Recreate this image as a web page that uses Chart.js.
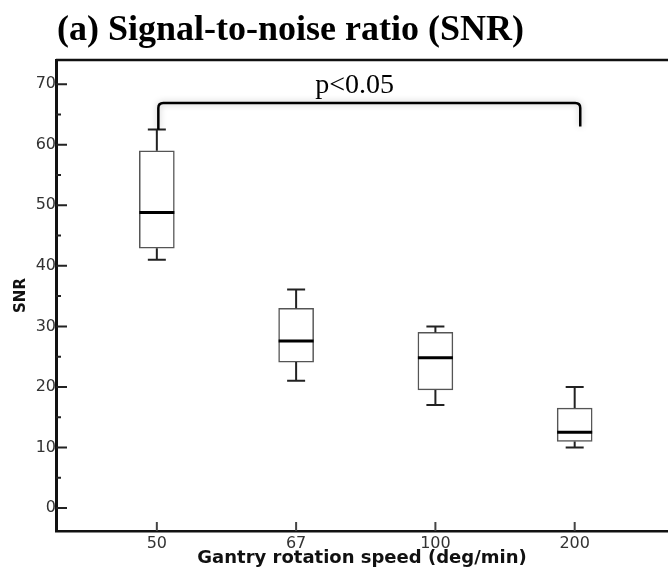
<!DOCTYPE html>
<html>
<head>
<meta charset="utf-8">
<script src="https://cdn.jsdelivr.net/npm/chart.js@4.4.0/dist/chart.umd.min.js"></script>
<style>
  html, body { margin: 0; padding: 0; background: #fff; }
  #wrap { width: 668px; height: 570px; }
</style>
</head>
<body>
<div id="wrap"><canvas id="myChart" width="668" height="570"></canvas></div>
<script>
// values
var speeds = ['50', '67', '100', '200'];
var whiskerLow = [41.0, 21.0, 17.0, 10.0];
var q1 = [42.9, 24.1, 19.5, 11.0];
var median = [48.8, 27.6, 24.8, 12.5];
var q3 = [59.0, 33.0, 29.0, 16.5];
var whiskerHigh = [62.5, 36.1, 30.0, 20.0];
var yTicks = [0, 10, 20, 30, 40, 50, 60, 70];
var yMinorTicks = [5, 15, 25, 35, 45, 55, 65];

// significance bracket between 50 and 200
var bracketX = [0, 3.04];
var bracketTop = 66.9;
var bracketEnds = [62.5, 63.0];
var pText = 'p<0.05';
var pTextPos = [1.42, 68.5];

var boxData = speeds.map(function (s, i) {
    return { x: i, y: [q1[i], q3[i]] };
});

var boxPlugin = {
    id: 'boxExtras',
    afterDatasetsDraw: function (chart) {
        var ctx = chart.ctx;
        var xs = chart.scales.x, ys = chart.scales.y;
        var area = chart.chartArea;
        ctx.save();

        // whiskers + caps
        ctx.strokeStyle = '#222';
        ctx.lineWidth = 2;
        for (var i = 0; i < speeds.length; i++) {
            var cx = xs.getPixelForValue(i);
            ctx.beginPath();
            ctx.moveTo(cx, ys.getPixelForValue(q3[i]));
            ctx.lineTo(cx, ys.getPixelForValue(whiskerHigh[i]));
            ctx.moveTo(cx, ys.getPixelForValue(q1[i]));
            ctx.lineTo(cx, ys.getPixelForValue(whiskerLow[i]));
            ctx.moveTo(cx - 9, ys.getPixelForValue(whiskerHigh[i]));
            ctx.lineTo(cx + 9, ys.getPixelForValue(whiskerHigh[i]));
            ctx.moveTo(cx - 9, ys.getPixelForValue(whiskerLow[i]));
            ctx.lineTo(cx + 9, ys.getPixelForValue(whiskerLow[i]));
            ctx.stroke();
        }

        // medians
        ctx.strokeStyle = '#000';
        ctx.lineWidth = 3;
        for (var j = 0; j < speeds.length; j++) {
            var mx = xs.getPixelForValue(j);
            var my = ys.getPixelForValue(median[j]);
            ctx.beginPath();
            ctx.moveTo(mx - 17.5, my);
            ctx.lineTo(mx + 17.5, my);
            ctx.stroke();
        }

        // bracket
        var bx0 = xs.getPixelForValue(bracketX[0]) + 1.5;
        var bx1 = xs.getPixelForValue(bracketX[1]);
        var by = ys.getPixelForValue(bracketTop);
        var r = 5;
        ctx.shadowColor = 'rgba(0,0,0,0.25)';
        ctx.shadowBlur = 6;
        ctx.strokeStyle = '#000';
        ctx.lineWidth = 2.5;
        ctx.beginPath();
        ctx.moveTo(bx0, ys.getPixelForValue(bracketEnds[0]));
        ctx.lineTo(bx0, by + r);
        ctx.quadraticCurveTo(bx0, by, bx0 + r, by);
        ctx.lineTo(bx1 - r, by);
        ctx.quadraticCurveTo(bx1, by, bx1, by + r);
        ctx.lineTo(bx1, ys.getPixelForValue(bracketEnds[1]));
        ctx.stroke();
        ctx.shadowBlur = 0;
        ctx.shadowColor = 'transparent';

        ctx.fillStyle = '#000';
        ctx.font = '28px "Liberation Serif", "Times New Roman", serif';
        ctx.textAlign = 'center';
        ctx.textBaseline = 'alphabetic';
        ctx.fillText(pText, xs.getPixelForValue(pTextPos[0]), ys.getPixelForValue(pTextPos[1]));

        // inner ticks on y axis
        ctx.strokeStyle = '#222';
        ctx.lineWidth = 2;
        ctx.beginPath();
        yTicks.forEach(function (v) {
            var py = ys.getPixelForValue(v);
            ctx.moveTo(area.left, py);
            ctx.lineTo(area.left + 11, py);
        });
        yMinorTicks.forEach(function (v) {
            var py = ys.getPixelForValue(v);
            ctx.moveTo(area.left, py);
            ctx.lineTo(area.left + 5, py);
        });
        ctx.stroke();

        // inner ticks on x axis
        ctx.strokeStyle = '#444';
        ctx.beginPath();
        speeds.forEach(function (s, k) {
            var px = xs.getPixelForValue(k);
            ctx.moveTo(px, area.bottom);
            ctx.lineTo(px, area.bottom - 9);
        });
        ctx.stroke();

        // top frame line
        ctx.strokeStyle = '#111';
        ctx.lineWidth = 2.5;
        ctx.beginPath();
        ctx.moveTo(area.left, area.top);
        ctx.lineTo(area.right, area.top);
        ctx.stroke();

        // panel title
        ctx.fillStyle = '#000';
        ctx.font = 'bold 36px "Liberation Serif", "Times New Roman", serif';
        ctx.textAlign = 'left';
        ctx.fillText('(a) Signal-to-noise ratio (SNR)', 57, 40);

        ctx.restore();
    }
};

var ctx = document.getElementById('myChart').getContext('2d');
var chart = new Chart(ctx, {
    type: 'bar',
    data: {
        datasets: [{
            label: 'SNR',
            data: boxData,
            backgroundColor: '#fff',
            borderColor: '#555',
            borderWidth: 1.5,
            borderSkipped: false,
            barThickness: 35
        }]
    },
    options: {
        responsive: false,
        animation: false,
        layout: { padding: { top: 60, left: 0, right: 0, bottom: 0 } },
        plugins: {
            legend: { display: false },
            tooltip: { enabled: false }
        },
        scales: {
            x: {
                type: 'linear',
                min: -0.724,
                max: 3.67,
                offset: false,
                afterBuildTicks: function (scale) {
                    scale.ticks = speeds.map(function (s, i) { return { value: i }; });
                },
                afterFit: function (scale) { scale.height = 39; },
                ticks: {
                    callback: function (v) { return speeds[v]; },
                    color: '#333',
                    font: { family: '"DejaVu Sans", sans-serif', size: 16 },
                    padding: 3,
                    maxRotation: 0
                },
                grid: { display: false, drawTicks: false },
                border: { color: '#111', width: 2.5 },
                title: {
                    display: true,
                    text: 'Gantry rotation speed (deg/min)',
                    color: '#111',
                    font: { family: '"DejaVu Sans", sans-serif', size: 18, weight: 'bold' },
                    padding: { top: 0.5, bottom: 0.5 }
                }
            },
            y: {
                min: -3.8,
                max: 74,
                afterBuildTicks: function (scale) {
                    scale.ticks = yTicks.map(function (v) { return { value: v }; });
                },
                afterFit: function (scale) { scale.width = 56; },
                ticks: {
                    color: '#333',
                    font: { family: '"DejaVu Sans", sans-serif', size: 16 },
                    padding: 0
                },
                grid: { display: false, drawTicks: false },
                border: { color: '#111', width: 3 },
                title: {
                    display: true,
                    text: 'SNR',
                    color: '#111',
                    font: { family: '"DejaVu Sans", sans-serif', size: 15, weight: 'bold' },
                    padding: { top: 12, bottom: 12 }
                }
            }
        }
    },
    plugins: [boxPlugin]
});
</script>
</body>
</html>
